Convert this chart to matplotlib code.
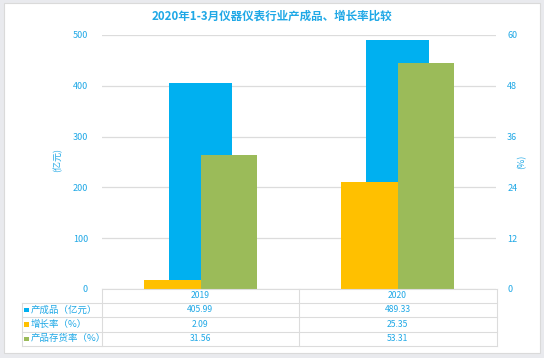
import matplotlib
matplotlib.use("Agg")
import matplotlib.pyplot as plt
from matplotlib.patches import Rectangle
from matplotlib.lines import Line2D

plt.rcParams['font.family'] = ['Noto Sans CJK SC', 'DejaVu Sans']

title = "2020年1-3月仪器仪表行业产成品、增长率比较"
categories = ["2019", "2020"]
series_names = ["产成品（亿元）", "增长率（%）", "产品存货率（%）"]
output_values = [405.99, 489.33]
growth_rate = [2.09, 25.35]
inventory_rate = [31.56, 53.31]
left_ticks = [0, 100, 200, 300, 400, 500]
right_ticks = [0, 12, 24, 36, 48, 60]
left_label = "(亿元)"
right_label = "(%)"

C_BLUE = "#00B0F0"
C_ORANGE = "#FFC000"
C_GREEN = "#9BBB59"
TXT = "#1FA8E6"
GRID = "#DCDCDC"

W, H = 544, 358
fig = plt.figure(figsize=(W / 100, H / 100), dpi=100)
fig.patch.set_facecolor("#E9EAEE")

def fx(px):
    return px / W

def fy(py):
    return 1 - py / H

# white panel
fig.patches.append(Rectangle((fx(3.5), fy(353)), fx(540) - fx(3.5), fy(3) - fy(353),
                             transform=fig.transFigure, facecolor="white",
                             edgecolor="#DADADA", lw=0.8, zorder=-5))

x0, x1, ytop, ybot = 102, 496, 35, 289
ax = fig.add_axes([fx(x0), fy(ybot), fx(x1) - fx(x0), fy(ytop) - fy(ybot)])
ax.set_facecolor("none")
ax2 = ax.twinx()

xs = list(range(len(categories)))
ax.bar(xs, output_values, width=0.315, color=C_BLUE, zorder=2)
ow = 0.287
ax2.bar([x - ow / 2 for x in xs], growth_rate, width=ow, color=C_ORANGE, zorder=3)
ax2.bar([x + ow / 2 for x in xs], inventory_rate, width=ow, color=C_GREEN, zorder=3)

ax.set_xlim(-0.5, 1.5)
ax.set_ylim(0, 500)
ax2.set_ylim(0, 60)
ax.set_yticks(left_ticks)
ax2.set_yticks(right_ticks)
ax.set_yticklabels([str(t) for t in left_ticks])
ax2.set_yticklabels([str(t) for t in right_ticks])
ax.set_xticks([])
for a in (ax, ax2):
    for s in a.spines.values():
        s.set_visible(False)
    a.tick_params(axis="y", length=0, labelsize=6.5, labelcolor=TXT)
ax.tick_params(axis="y", pad=10)
ax2.tick_params(axis="y", pad=8)
ax.yaxis.grid(True, color=GRID, lw=0.9)
ax.set_axisbelow(True)

fig.text(fx(58), fy(160), left_label, rotation=90, color=TXT, fontsize=6.5,
         ha="center", va="center")
fig.text(fx(522), fy(162), right_label, rotation=90, color=TXT, fontsize=6.5,
         ha="center", va="center")

fig.text(fx(272), fy(16), title, color=TXT, fontsize=8.3, fontweight="bold",
         ha="center", va="center")

# data table
tl, tc, tm, tr = 21.5, 101.7, 298.6, 496.5
rows_y = [289, 302.7, 317.3, 331.7, 346]
lw = 0.8

def hline(y, xa, xb):
    fig.add_artist(Line2D([fx(xa), fx(xb)], [fy(y), fy(y)], color=GRID, lw=lw))

def vline(x, ya, yb):
    fig.add_artist(Line2D([fx(x), fx(x)], [fy(ya), fy(yb)], color=GRID, lw=lw))

hline(rows_y[0], tc, tr)
for y in rows_y[1:]:
    hline(y, tl, tr)
vline(tl, rows_y[1], rows_y[-1])
vline(tc, rows_y[0], rows_y[-1])
vline(tm, rows_y[0], rows_y[-1])
vline(tr, rows_y[0], rows_y[-1])

col_centers = [(tc + tm) / 2, (tm + tr) / 2]
for cx, cat in zip(col_centers, categories):
    fig.text(fx(cx), fy((rows_y[0] + rows_y[1]) / 2), cat, color=TXT, fontsize=6.2,
             ha="center", va="center")

series_vals = [output_values, growth_rate, inventory_rate]
colors = [C_BLUE, C_ORANGE, C_GREEN]
for i, (name, vals, c) in enumerate(zip(series_names, series_vals, colors)):
    yc = (rows_y[i + 1] + rows_y[i + 2]) / 2
    fig.patches.append(Rectangle((fx(24), fy(yc + 2.3)), fx(4.6), fy(0) - fy(4.6),
                                 transform=fig.transFigure, facecolor=c, edgecolor="none"))
    fig.text(fx(31), fy(yc), name, color=TXT, fontsize=6.8, ha="left", va="center")
    for cx, v in zip(col_centers, vals):
        fig.text(fx(cx), fy(yc), f"{v:.2f}", color=TXT, fontsize=6.2,
                 ha="center", va="center")

fig.savefig("out.png", dpi=100, facecolor=fig.get_facecolor())
